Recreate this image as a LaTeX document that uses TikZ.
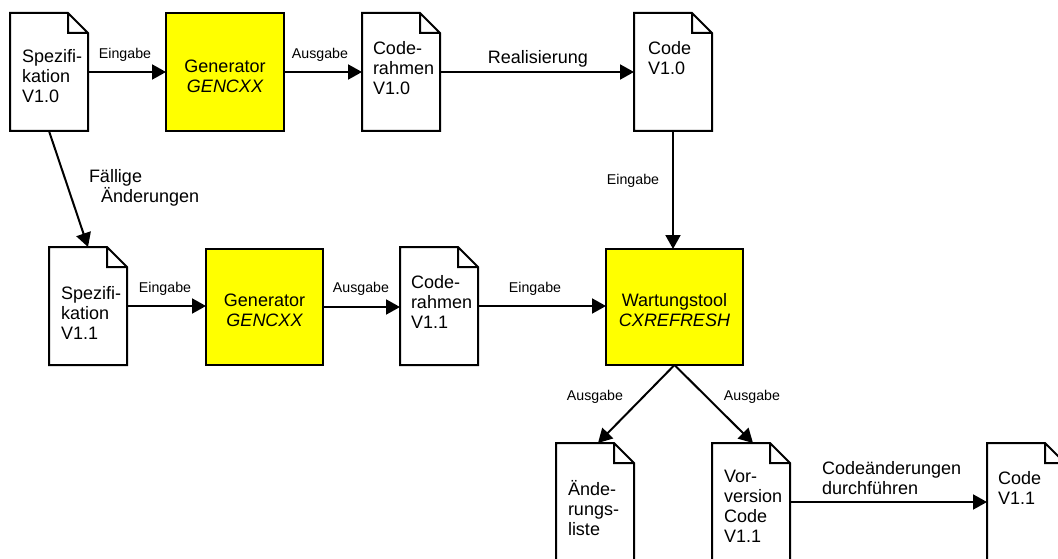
\documentclass[tikz,border=0pt]{standalone}
\usepackage{fontspec}
\setmainfont{Liberation Sans}
\usetikzlibrary{arrows.meta}
\definecolor{boxyellow}{RGB}{255,255,0}
\newcommand\tstrut{\rule{0pt}{16pt}}
\newcommand\bigtxt{\fontsize{18}{20}\selectfont}
\newcommand\smalltxt{\fontsize{14.2}{17}\selectfont}
\begin{document}
\begin{tikzpicture}[x=1pt,y=-1pt,
  line width=2pt, line join=miter,
  doc/.style={minimum width=78pt, minimum height=118pt, inner sep=0pt, outer sep=0pt,
    append after command={(\tikzlastnode.north west) -- ([xshift=-20pt]\tikzlastnode.north east) -- ([yshift=-20pt]\tikzlastnode.north east) -- (\tikzlastnode.south east) -- (\tikzlastnode.south west) -- cycle
    ([xshift=-20pt]\tikzlastnode.north east) |- ([yshift=-20pt]\tikzlastnode.north east)}},
  tool/.style={draw, fill=boxyellow, minimum height=116pt, inner sep=0pt, outer sep=0pt, align=center, font=\bigtxt},
  doctext/.style={anchor=north west, inner sep=0pt, align=left, font=\bigtxt},
  lbl/.style={inner sep=0pt, font=\smalltxt},
  biglbl/.style={inner sep=0pt, font=\bigtxt},
  arr/.style={-{Triangle[length=14pt,width=15pt]}, line width=2pt}
]
\useasboundingbox (0,0) rectangle (1058,559);

% row 1
\draw (49,72) node[doc] (s1) {};
\node[doctext] (s1t) at (21,45.3) {\tstrut Spezifi-\\kation\\V1.0};
\node[tool, minimum width=118pt, minimum height=118pt] (g1) at (225,72) {\rule{0pt}{21pt}Generator\\\itshape GENCXX};
\draw (401,72) node[doc] (cr1) {};
\node[doctext] (cr1t) at (372,37.3) {\tstrut Code-\\rahmen\\V1.0};
\draw (673,72) node[doc] (c0) {};
\node[doctext] (c0t) at (647,37.3) {\tstrut Code\\V1.0};

% row 2
\draw (88,306) node[doc] (s2) {};
\node[doctext] (s2t) at (60,282.3) {\tstrut Spezifi-\\kation\\V1.1};
\node[tool, minimum width=117pt] (g2) at (264.5,307) {\rule{0pt}{19pt}Generator\\\itshape GENCXX};
\draw (439,306) node[doc] (cr2) {};
\node[doctext] (cr2t) at (410,271.3) {\tstrut Code-\\rahmen\\V1.1};
\node[tool, minimum width=137pt] (w) at (674.5,307) {\rule{0pt}{19pt}Wartungstool\\\itshape CXREFRESH};

% row 3
\draw (595,502) node[doc] (ae) {};
\node[doctext] (aet) at (567,478.3) {\tstrut Ände-\\rungs-\\liste};
\draw (751,502) node[doc] (vv) {};
\node[doctext] (vvt) at (723,465.3) {\tstrut Vor-\\version\\Code\\V1.1};
\draw (1026,502) node[doc] (cv) {};
\node[doctext] (cvt) at (997,467.3) {\tstrut Code\\V1.1};

% connectors
\draw[arr] (s1.east) -- (s1.east -| g1.west);
\draw[arr] (g1.east) -- (g1.east -| cr1.west);
\draw[arr] (cr1.east) -- (cr1.east -| c0.west);
\draw[arr] (s1.south) -- (s2.north);
\draw[arr] (c0.south) -- (c0.south |- w.north);
\draw[arr] (s2.east) -- (s2.east -| g2.west);
\draw[arr] (g2.east) -- (g2.east -| cr2.west);
\draw[arr] (cr2.east) -- (cr2.east -| w.west);
\draw[arr] (w.south) -- ([xshift=3pt]ae.north);
\draw[arr] (w.south) -- ([xshift=2pt]vv.north);
\draw[arr] (vv.east) -- (vv.east -| cv.west);

% labels
\node[lbl] (l1) at (125,54.5) {Eingabe};
\node[lbl] (l2) at (320,54.5) {Ausgabe};
\node[biglbl] (l3) at (538,59) {Realisierung};
\node[lbl] (l4) at (633,180.5) {Eingabe};
\node[doctext, font=\fontsize{18}{18}\selectfont] (l5) at (88,165.3) {\tstrut Fällige\\\hspace*{12pt}Änderungen};
\node[lbl] (l6) at (165,288.5) {Eingabe};
\node[lbl] (l7) at (361,288.5) {Ausgabe};
\node[lbl] (l8) at (535,288.5) {Eingabe};
\node[lbl] (l9) at (595,396.5) {Ausgabe};
\node[lbl] (l10) at (752,396.5) {Ausgabe};
\node[doctext] (l11) at (821,457.3) {\tstrut Codeänderungen\\durchführen};
\end{tikzpicture}
\end{document}
